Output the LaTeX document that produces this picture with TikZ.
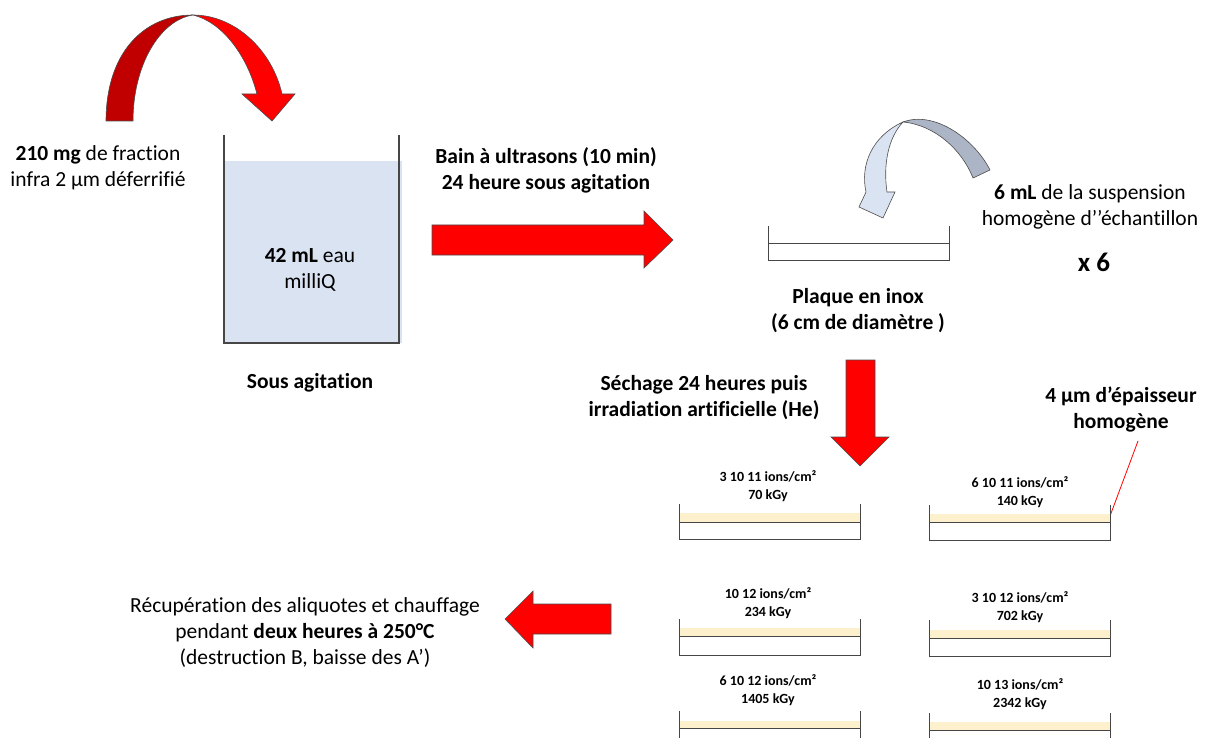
\documentclass[tikz,border=0pt]{standalone}
\usepackage{fontspec}
\setmainfont{Carlito}[Ligatures={NoCommon}]

\definecolor{rougeVif}{RGB}{255,0,0}
\definecolor{rougeSombre}{RGB}{192,0,0}
\definecolor{bleuEau}{RGB}{218,227,242}
\definecolor{grisBleu}{RGB}{172,181,197}
\definecolor{beigeDepot}{RGB}{253,240,205}
\definecolor{traitPlaque}{RGB}{70,70,70}

\tikzset{every picture/.style={line width=0.75pt}}
\tikzset{
  txt/.style={font=\fontsize{21.5}{26}\selectfont, align=center, inner sep=0pt},
  txtgras/.style={font=\fontsize{21.5}{26}\selectfont\bfseries, align=center, inner sep=0pt},
  etiquette/.style={font=\fontsize{14}{18}\selectfont\bfseries, align=center, inner sep=0pt},
  fleche/.style={fill=rougeVif, draw=black!70, line width=0.6pt},
  ruban/.style={draw=black!70, line width=0.6pt},
  plaque/.style={draw=traitPlaque, line width=1pt},
}

\begin{document}
\begin{tikzpicture}[x=1pt,y=1pt,yscale=-1]
\useasboundingbox (0,0) rectangle (1210,738);
\clip (0,0) rectangle (1210,738);

%Shape: Curved Arrow (red) [left part]
\draw[ruban, fill=rougeSombre] (106,121) .. controls (106,55) and (142,15) .. (193,15) .. controls (160,20) and (133,65) .. (133,121) -- cycle;
%Shape: Curved Arrow (red) [right part]
\draw[fleche] (193,15) .. controls (235,15) and (272,50) .. (282,94) -- (295,94) -- (272,121) -- (242,94) -- (257,94) .. controls (247,55) and (222,22) .. (193,15) -- cycle;

%Shape: Beaker
\fill[bleuEau] (224,161) rectangle (402,343);
\draw[plaque, line width=1.2pt] (224,135) -- (224,343) -- (399,343) -- (399,135);

% Text Node
\node[txt] (poudre) at (98,168) {\textbf{210 mg} de fraction\\infra 2 µm déferrifié};
% Text Node
\node[txt] (eau) at (310,270) {\textbf{42 mL} eau\\milliQ};
% Text Node
\node[txtgras] (agitation) at (310,383) {Sous agitation};
% Text Node
\node[txtgras] (bain) at (546,170) {Bain à ultrasons (10 min)\\24 heure sous agitation};

%Shape: Right Arrow
\draw[fleche] (432,225) -- (644,225) -- (644,211) -- (673,240) -- (644,268) -- (644,255) -- (432,255) -- cycle;

%Shape: Plate (inox)
\draw[plaque] (768,226) -- (768,260) -- (949,260) -- (949,226);
\draw[plaque] (768,243) -- (949,243);
% Text Node
\node[txtgras] (inox) at (858,311) {Plaque en inox\\(6 cm de diamètre )};

%Shape: Curved Arrow (blue) [head part]
\draw[ruban, fill=bleuEau] (903,122) .. controls (872,136) and (860,165) .. (866,192) -- (859,207) -- (883,218) -- (895,192) -- (887,192) .. controls (883,165) and (888,138) .. (903,122) -- cycle;
%Shape: Curved Arrow (blue) [tail part]
\draw[ruban, fill=grisBleu] (903,122) .. controls (935,110) and (975,140) .. (990,170) -- (973,178) .. controls (962,150) and (935,125) .. (903,122) -- cycle;

% Text Node
\node[txt] (suspension) at (1090,207) {\textbf{6 mL} de la suspension\\homogène d’’échantillon};
% Text Node
\node[font=\fontsize{27}{30}\selectfont\bfseries, inner sep=0pt] (fois) at (1094,262) {x 6};

%Shape: Down Arrow
\draw[fleche] (846,360) -- (875,360) -- (875,437) -- (889,437) -- (860,466) -- (831,437) -- (846,437) -- cycle;
% Text Node
\node[txtgras] (sechage) at (704,398) {Séchage 24 heures puis\\irradiation artificielle (He)};

% Text Node
\node[txtgras] (epaisseur) at (1121,409) {4 µm d’épaisseur\\homogène};
\coordinate (depart) at (1138,441);
\coordinate (coin) at (1110,516);
%Straight Lines
\draw[rougeVif, line width=0.8pt] (depart) -- (coin);

%Shape: Plates (irradiated)
\fill[beigeDepot] (679,513) rectangle (860,522);
\draw[plaque] (679,504) -- (679,539) -- (860,539) -- (860,504);
\draw[plaque] (679,522) -- (860,522);
\fill[beigeDepot] (929,514) rectangle (1110,522);
\draw[plaque] (929,505) -- (929,540) -- (1110,540) -- (1110,505);
\draw[plaque] (929,522) -- (1110,522);
\fill[beigeDepot] (679,628) rectangle (860,636);
\draw[plaque] (679,619) -- (679,655) -- (860,655) -- (860,619);
\draw[plaque] (679,636) -- (860,636);
\fill[beigeDepot] (929,630) rectangle (1110,638);
\draw[plaque] (929,620) -- (929,656) -- (1110,656) -- (1110,620);
\draw[plaque] (929,638) -- (1110,638);
\fill[beigeDepot] (679,721) rectangle (860,728);
\draw[plaque] (679,711) -- (679,746) -- (860,746) -- (860,711);
\draw[plaque] (679,728) -- (860,728);
\fill[beigeDepot] (929,722) rectangle (1110,730);
\draw[plaque] (929,713) -- (929,748) -- (1110,748) -- (1110,713);
\draw[plaque] (929,730) -- (1110,730);

% Text Node
\node[etiquette] (dose1) at (768,486) {3 10 11 ions/cm²\\70 kGy};
% Text Node
\node[etiquette] (dose2) at (1020,492) {6 10 11 ions/cm²\\140 kGy};
% Text Node
\node[etiquette] (dose3) at (768,603) {10 12 ions/cm²\\234 kGy};
% Text Node
\node[etiquette] (dose4) at (1020,607) {3 10 12 ions/cm²\\702 kGy};
% Text Node
\node[etiquette] (dose5) at (768,690) {6 10 12 ions/cm²\\1405 kGy};
% Text Node
\node[etiquette] (dose6) at (1020,694) {10 13 ions/cm²\\2342 kGy};

%Shape: Left Arrow
\draw[fleche] (611,604) -- (533,604) -- (533,591) -- (505,619) -- (533,648) -- (533,634) -- (611,634) -- cycle;
% Text Node
\node[txt] (chauffage) at (305,633) {Récupération des aliquotes et chauffage\\pendant \textbf{deux heures à 250°C}\\(destruction B, baisse des A’)};

\end{tikzpicture}
\end{document}
